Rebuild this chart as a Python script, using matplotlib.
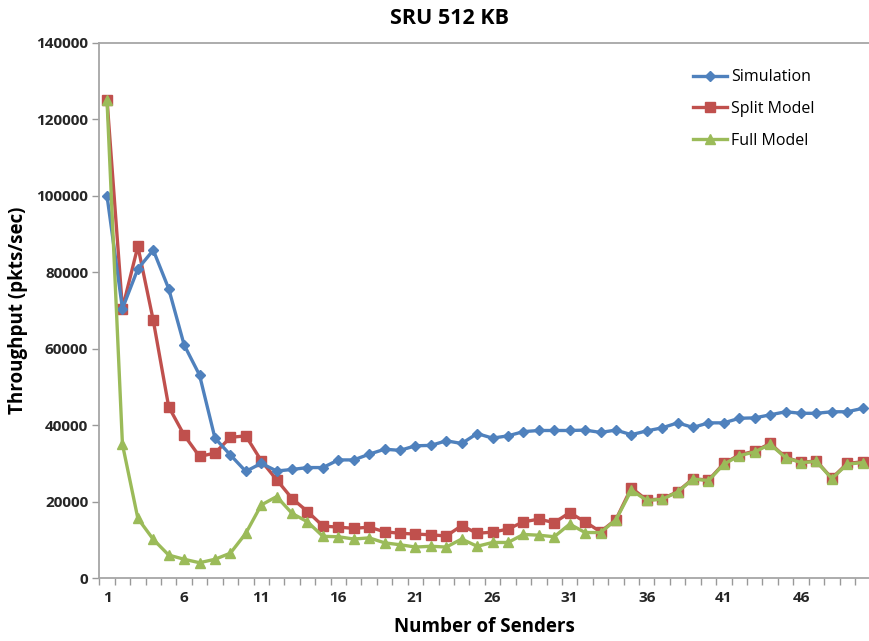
import matplotlib
matplotlib.use("Agg")
import matplotlib.pyplot as plt
from matplotlib.ticker import FixedLocator, NullFormatter

plt.rcParams['font.family'] = ['Open Sans', 'DejaVu Sans']

senders = list(range(1, 51))
simulation = [100000, 70500, 80900, 85800, 75700, 61000, 53100, 36600, 32200, 27900,
              30000, 28000, 28400, 28900, 28900, 30900, 30900, 32400, 33700, 33400,
              34600, 34700, 35900, 35200, 37800, 36600, 37200, 38300, 38600, 38600,
              38600, 38700, 38100, 38700, 37500, 38500, 39300, 40600, 39400, 40600,
              40600, 41800, 41900, 42700, 43500, 43100, 43100, 43500, 43500, 44400]
split_model = [125200, 70500, 86800, 67400, 44800, 37400, 31800, 32700, 36800, 37200,
               30700, 25700, 20800, 17400, 13600, 13300, 13000, 13300, 12100, 11700,
               11500, 11300, 11000, 13700, 11700, 12000, 12800, 14700, 15400, 14500,
               17100, 14700, 12100, 15300, 23600, 20400, 20700, 22600, 26000, 25600,
               30000, 32200, 33200, 35200, 31600, 30300, 30600, 26100, 30000, 30400]
full_model = [125000, 35000, 15600, 10100, 6000, 4900, 4000, 4900, 6500, 11700,
              19100, 21300, 16900, 14700, 10900, 10800, 10200, 10500, 9200, 8700,
              8100, 8300, 8100, 10200, 8300, 9300, 9300, 11400, 11200, 10800,
              14100, 11900, 11900, 15200, 23000, 20300, 20600, 22500, 25900, 25500,
              29800, 32000, 33000, 35000, 31500, 30200, 30500, 26000, 29800, 30200]
x_tick_labels = [1, 6, 11, 16, 21, 26, 31, 36, 41, 46]
y_ticks = [0, 20000, 40000, 60000, 80000, 100000, 120000, 140000]

W, H = 869, 641
fig = plt.figure(figsize=(W / 100, H / 100), dpi=100)
L, R, B, T = 99.3, 869.0, 578, 43
ax = fig.add_axes([L / W, (H - B) / H, (R - L) / W, (B - T) / H])

blue = '#4F81BD'
red = '#C0504D'
green = '#9BBB59'

ax.plot(senders, simulation, color=blue, lw=2.4, marker='D', ms=5.5,
        label='Simulation', zorder=3)
ax.plot(senders, split_model, color=red, lw=2.4, marker='s', ms=7,
        label='Split Model', zorder=2)
ax.plot(senders, full_model, color=green, lw=2.4, marker='^', ms=7,
        label='Full Model', zorder=4)

xmax = 0.5 + 50 * (R - L) / 771.1
ax.set_xlim(0.5, xmax)
ax.set_ylim(0, 140000)

ax.set_xticks(x_tick_labels)
ax.set_xticklabels([str(v) for v in x_tick_labels], fontweight='bold')
ax.xaxis.set_minor_locator(FixedLocator([i + 0.5 for i in range(0, 51)]))
ax.xaxis.set_minor_formatter(NullFormatter())
ax.tick_params(axis='x', which='major', length=0, pad=9, labelsize=11,
               labelcolor='#262626')
ax.tick_params(axis='x', which='minor', length=5, width=1, color='#999999',
               direction='out')

ax.set_yticks(y_ticks)
ax.set_yticklabels([str(v) for v in y_ticks], fontweight='bold')
ax.tick_params(axis='y', length=5, width=1, color='#999999', direction='out',
               labelsize=11, labelcolor='#262626', pad=3)

ax.spines['right'].set_visible(False)
for s in ['left', 'bottom', 'top']:
    ax.spines[s].set_color('#A6A6A6')
    ax.spines[s].set_linewidth(1.3)

ax.set_xlabel('Number of Senders', fontsize=13.5, fontweight='bold', labelpad=9)
ax.set_ylabel('Throughput (pkts/sec)', fontsize=13.5, fontweight='bold', labelpad=6)
fig.text(449 / W, 1 - 19 / H, 'SRU 512 KB', ha='center', va='center',
         fontsize=15.5, fontweight='bold')

leg = ax.legend(loc='upper left', bbox_to_anchor=((687 - L) / (R - L), 1 - (63 - T) / (B - T)),
                frameon=False, fontsize=11.5, handlelength=2.1, labelspacing=0.98,
                handletextpad=0.25, borderaxespad=0)

fig.savefig('out.png', dpi=100)
